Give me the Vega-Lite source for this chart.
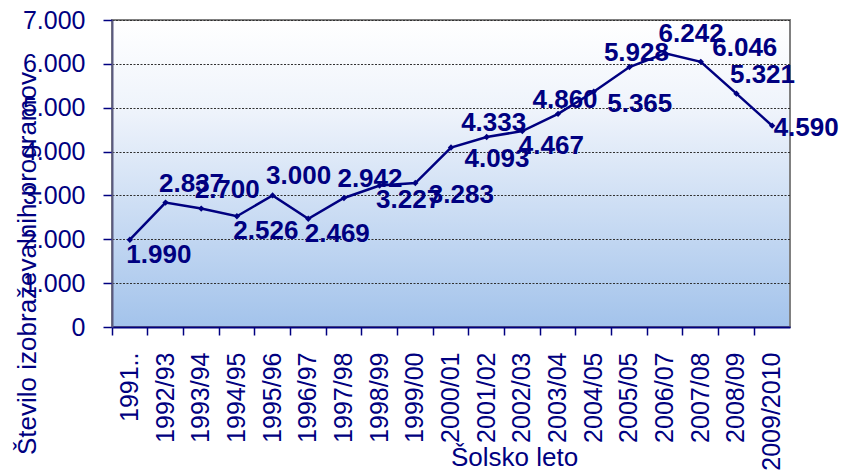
{
  "$schema": "https://vega.github.io/schema/vega-lite/v6.json",
  "width": 678,
  "height": 307,
  "autosize": {"type": "none"},
  "padding": {"left": 112, "top": 20, "right": 51, "bottom": 146},
  "background": "white",
  "view": {
    "stroke": "#808080",
    "strokeWidth": 2,
    "fill": {
      "gradient": "linear",
      "x1": 0, "y1": 0, "x2": 0, "y2": 1,
      "stops": [
        {"offset": 0, "color": "#ffffff"},
        {"offset": 0.3, "color": "#eef3fb"},
        {"offset": 1, "color": "#a3c3eb"}
      ]
    }
  },
  "config": {
    "font": "Liberation Sans",
    "locale": {"number": {"decimal": ",", "thousands": ".", "grouping": [3], "currency": ["", ""]}},
    "axis": {
      "labelFont": "Liberation Sans",
      "titleFont": "Liberation Sans",
      "labelColor": "#000080",
      "titleColor": "#000080",
      "labelFontSize": 25,
      "titleFontSize": 26,
      "titleFontWeight": "normal",
      "tickColor": "#000080",
      "domainColor": "#000080"
    }
  },
  "data": {
    "values": [
      {"year": "1991/92", "value": 1990},
      {"year": "1992/93", "value": 2837},
      {"year": "1993/94", "value": 2700},
      {"year": "1994/95", "value": 2526},
      {"year": "1995/96", "value": 3000},
      {"year": "1996/97", "value": 2469},
      {"year": "1997/98", "value": 2942},
      {"year": "1998/99", "value": 3227},
      {"year": "1999/00", "value": 3283},
      {"year": "2000/01", "value": 4093},
      {"year": "2001/02", "value": 4333},
      {"year": "2002/03", "value": 4467},
      {"year": "2003/04", "value": 4860},
      {"year": "2004/05", "value": 5365},
      {"year": "2005/05", "value": 5928},
      {"year": "2006/07", "value": 6242},
      {"year": "2007/08", "value": 6046},
      {"year": "2008/09", "value": 5321},
      {"year": "2009/2010", "value": 4590}
    ]
  },
  "resolve": {"axis": {"x": "independent"}},
  "encoding": {
    "y": {
      "field": "value",
      "type": "quantitative",
      "scale": {"domain": [0, 7000], "nice": false},
      "axis": {
        "values": [0, 1000, 2000, 3000, 4000, 5000, 6000, 7000],
        "format": ",.0f",
        "tickSize": 9,
        "tickWidth": 1.5,
        "labelPadding": 18,
        "domainColor": "#5a5a80",
        "domainWidth": 2,
        "grid": true,
        "gridColor": "#303030",
        "gridDash": [2, 1.5],
        "gridWidth": 1,
        "title": "Število izobraževalnih programov",
        "titleAngle": -90,
        "titleX": -85,
        "titleY": 243,
        "titleAlign": "center",
        "titleBaseline": "middle"
      }
    }
  },
  "layer": [
    {
      "mark": {"type": "line", "color": "#000080", "strokeWidth": 2.5},
      "encoding": {
        "x": {
          "field": "year", "type": "ordinal", "sort": null,
          "scale": {"type": "band", "paddingInner": 0, "paddingOuter": 0},
          "axis": {
            "orient": "bottom",
            "bandPosition": 0,
            "labels": false,
            "ticks": true,
            "tickSize": 8,
            "tickWidth": 1.5,
            "domain": true,
            "domainWidth": 2,
            "grid": false,
            "title": null
          }
        }
      }
    },
    {
      "mark": {"type": "point", "shape": "diamond", "filled": true, "color": "#000080", "size": 40, "opacity": 1},
      "encoding": {
        "x": {
          "field": "year", "type": "ordinal", "sort": null,
          "scale": {"type": "band", "paddingInner": 0, "paddingOuter": 0},
          "axis": {
            "orient": "bottom",
            "labels": true,
            "ticks": false,
            "domain": false,
            "grid": false,
            "labelAngle": -90,
            "labelAlign": "right",
            "labelBaseline": "middle",
            "labelPadding": 25,
            "labelExpr": "datum.value == '1991/92' ? '1991..' : datum.value",
            "title": "Šolsko leto",
            "titleX": 402,
            "titleY": 130,
            "titleAlign": "center",
            "titleBaseline": "middle"
          }
        }
      }
    },
    {
      "transform": [{"filter": {"field": "year", "oneOf": ["1992/93", "1993/94", "1995/96", "1997/98", "2006/07", "2008/09"]}}],
      "mark": {"type": "text", "font": "Liberation Sans", "fontWeight": "bold", "fontSize": 26, "color": "#000080", "align": "center", "baseline": "middle", "dx": 26, "dy": -19},
      "encoding": {
        "x": {"field": "year", "type": "ordinal", "sort": null, "scale": {"type": "band", "paddingInner": 0, "paddingOuter": 0}, "axis": null},
        "text": {"field": "value", "type": "quantitative", "format": ",.0f"}
      }
    },
    {
      "transform": [{"filter": {"field": "year", "oneOf": ["2001/02", "2003/04", "2005/05"]}}],
      "mark": {"type": "text", "font": "Liberation Sans", "fontWeight": "bold", "fontSize": 26, "color": "#000080", "align": "center", "baseline": "middle", "dx": 7, "dy": -14},
      "encoding": {
        "x": {"field": "year", "type": "ordinal", "sort": null, "scale": {"type": "band", "paddingInner": 0, "paddingOuter": 0}, "axis": null},
        "text": {"field": "value", "type": "quantitative", "format": ",.0f"}
      }
    },
    {
      "transform": [{"filter": {"field": "year", "oneOf": ["2007/08"]}}],
      "mark": {"type": "text", "font": "Liberation Sans", "fontWeight": "bold", "fontSize": 26, "color": "#000080", "align": "center", "baseline": "middle", "dx": 44, "dy": -14},
      "encoding": {
        "x": {"field": "year", "type": "ordinal", "sort": null, "scale": {"type": "band", "paddingInner": 0, "paddingOuter": 0}, "axis": null},
        "text": {"field": "value", "type": "quantitative", "format": ",.0f"}
      }
    },
    {
      "transform": [{"filter": {"field": "year", "oneOf": ["1991/92", "1994/95", "1996/97", "1998/99", "2002/03"]}}],
      "mark": {"type": "text", "font": "Liberation Sans", "fontWeight": "bold", "fontSize": 26, "color": "#000080", "align": "center", "baseline": "middle", "dx": 29, "dy": 15},
      "encoding": {
        "x": {"field": "year", "type": "ordinal", "sort": null, "scale": {"type": "band", "paddingInner": 0, "paddingOuter": 0}, "axis": null},
        "text": {"field": "value", "type": "quantitative", "format": ",.0f"}
      }
    },
    {
      "transform": [{"filter": {"field": "year", "oneOf": ["1999/00", "2000/01", "2004/05"]}}],
      "mark": {"type": "text", "font": "Liberation Sans", "fontWeight": "bold", "fontSize": 26, "color": "#000080", "align": "center", "baseline": "middle", "dx": 46, "dy": 12},
      "encoding": {
        "x": {"field": "year", "type": "ordinal", "sort": null, "scale": {"type": "band", "paddingInner": 0, "paddingOuter": 0}, "axis": null},
        "text": {"field": "value", "type": "quantitative", "format": ",.0f"}
      }
    },
    {
      "transform": [{"filter": {"field": "year", "oneOf": ["2009/2010"]}}],
      "mark": {"type": "text", "font": "Liberation Sans", "fontWeight": "bold", "fontSize": 26, "color": "#000080", "align": "center", "baseline": "middle", "dx": 34, "dy": 2},
      "encoding": {
        "x": {"field": "year", "type": "ordinal", "sort": null, "scale": {"type": "band", "paddingInner": 0, "paddingOuter": 0}, "axis": null},
        "text": {"field": "value", "type": "quantitative", "format": ",.0f"}
      }
    }
  ]
}
